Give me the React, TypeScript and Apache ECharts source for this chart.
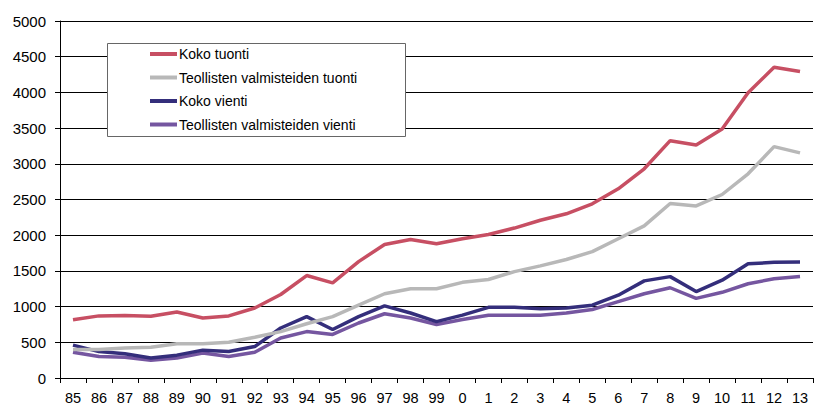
import React, { useEffect, useRef } from "react";
import * as echarts from "echarts";

const years = ["85","86","87","88","89","90","91","92","93","94","95","96","97","98","99","0","1","2","3","4","5","6","7","8","9","10","11","12","13"];
const seriesNames = ["Koko tuonti","Teollisten valmisteiden tuonti","Koko vienti","Teollisten valmisteiden vienti"];
const kokoTuonti = [815,870,875,865,925,840,870,980,1170,1435,1333,1630,1870,1940,1880,1950,2010,2100,2210,2300,2440,2650,2930,3324,3264,3486,3995,4352,4292];
const teollTuonti = [400,400,420,430,480,480,500,570,650,760,860,1020,1180,1250,1250,1340,1380,1490,1570,1660,1770,1950,2130,2444,2410,2570,2860,3240,3153];
const kokoVienti = [460,370,340,280,320,390,370,440,700,860,680,860,1010,910,790,880,990,990,970,980,1020,1160,1360,1420,1210,1370,1600,1620,1625];
const teollVienti = [360,300,290,250,280,350,300,360,560,650,610,770,900,840,750,820,880,880,880,910,960,1070,1180,1264,1115,1200,1320,1390,1421];
const colors = ["#c74f63","#b8b8b8","#342e7b","#7556a0"];
const yTicks = { min: 0, max: 5000, interval: 500 };

export default function App() {
  const ref = useRef<HTMLDivElement>(null);
  useEffect(() => {
    if (!ref.current) return;
    const chart = echarts.init(ref.current, null, { renderer: "svg" });
    const datasets = [kokoTuonti, teollTuonti, kokoVienti, teollVienti];
    chart.setOption({
      animation: false,
      backgroundColor: "#ffffff",
      grid: { left: 60, right: 1, top: 21, bottom: 24, containLabel: false },
      xAxis: {
        type: "category",
        data: years,
        boundaryGap: true,
        axisLine: { lineStyle: { color: "#000", width: 1 } },
        axisTick: { show: true, length: 5, lineStyle: { color: "#000" } },
        axisLabel: { color: "#000", fontSize: 14.5, fontFamily: "Liberation Sans", margin: 12, interval: 0 },
        splitLine: { show: false },
      },
      yAxis: {
        type: "value",
        min: yTicks.min,
        max: yTicks.max,
        interval: yTicks.interval,
        axisLine: { show: true, lineStyle: { color: "#000", width: 1 } },
        axisTick: { show: true, length: 5, lineStyle: { color: "#000" } },
        axisLabel: { color: "#000", fontSize: 15, fontFamily: "Liberation Sans", margin: 14, formatter: (v: number) => String(v) },
        splitLine: { show: true, lineStyle: { color: "#000", width: 1 } },
      },
      graphic: [
        {
          type: "rect",
          shape: { x: 107.5, y: 43.5, width: 298, height: 93 },
          style: { fill: "#fff", stroke: "#666", lineWidth: 1 },
          z: 100,
        },
      ],
      legend: {
        orient: "vertical",
        left: 150,
        top: 46,
        icon: "rect",
        itemWidth: 27,
        itemHeight: 4,
        itemGap: 7.5,
        padding: 0,
        z: 110,
        textStyle: { color: "#000", fontSize: 14, fontFamily: "Liberation Sans", lineHeight: 16, padding: [0, 0, 0, -3] },
        data: seriesNames,
      },
      series: seriesNames.map((name, i) => ({
        name,
        type: "line",
        data: datasets[i],
        symbol: "none",
        lineStyle: { color: colors[i], width: 3.5 },
        itemStyle: { color: colors[i] },
        z: 2 + (3 - i),
      })),
    });
    return () => chart.dispose();
  }, []);
  return <div ref={ref} style={{ position: "fixed", left: 0, top: 0, width: 814, height: 405 }} />;
}
